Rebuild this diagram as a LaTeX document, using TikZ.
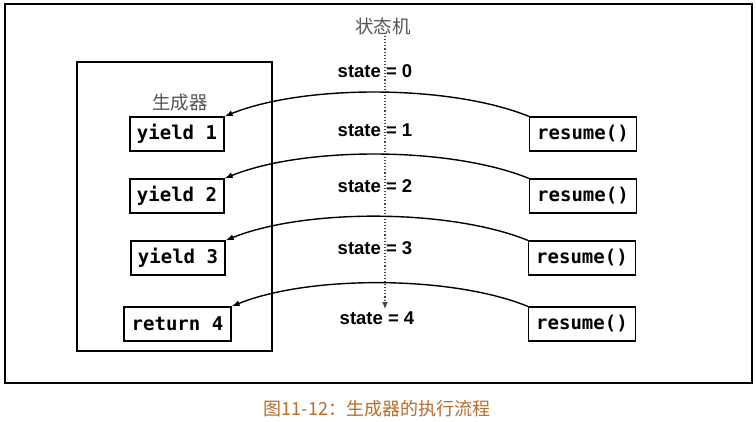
\documentclass[tikz,border=0pt]{standalone}
\usepackage{fontspec}
\usetikzlibrary{arrows.meta}
\newfontfamily\codefont{DejaVu Sans Mono}
\newfontfamily\statefont{Liberation Sans}
\newfontfamily\cjk{Noto Sans CJK SC}
\definecolor{capcol}{RGB}{184,108,40}
\definecolor{lblgray}{RGB}{85,85,85}
\begin{document}
\begin{tikzpicture}[x=1pt, y=1pt,
  codebox/.style={draw, line width=1.3pt, inner sep=0pt, minimum width=94pt, minimum height=34pt, font=\codefont\bfseries\fontsize{19}{19}\selectfont},
  statelbl/.style={inner sep=0pt, font=\statefont\bfseries\fontsize{18.5}{18.5}\selectfont},
  cjklbl/.style={inner sep=0pt, text=lblgray, font=\cjk\fontsize{18.5}{18.5}\selectfont},
  resarrow/.style={line width=1.4pt, -{Latex[length=8pt,width=6pt]}}]
\useasboundingbox (0,0) rectangle (756,-421);
\node[draw, line width=2.2pt, minimum width=747pt, minimum height=379pt, inner sep=0pt] (frame) at (378.5,-193.5){};
\node[draw, line width=1.5pt, minimum width=195pt, minimum height=289pt, inner sep=0pt] (gen) at (174.5,-206.5){};
\node[cjklbl] (genlbl) at (180,-103){生成器};
\node[codebox] (y1) at (177,-134){yield 1};
\node[codebox] (y2) at (177,-196){yield 2};
\node[codebox] (y3) at (178,-258){yield 3};
\node[codebox, minimum width=107pt] (r4) at (177.5,-324){return 4};
\node[codebox, minimum width=107pt] (res1) at (583,-134){resume()};
\node[codebox, minimum width=107pt] (res2) at (583,-196){resume()};
\node[codebox, minimum width=107pt] (res3) at (582,-258){resume()};
\node[codebox, minimum width=107pt] (res4) at (582,-324){resume()};
\node[cjklbl] (sm) at (383,-26){状态机};
\coordinate (smtop) at (385,-36);
\coordinate (smbot) at (385,-309);
\draw[dotted, line width=1.1pt, lblgray!80!black, -{Latex[length=7pt,width=6pt]}](smtop) -- (smbot);
\node[statelbl] (s0) at (375,-71){state = 0};
\node[statelbl] (s1) at (375,-130){state = 1};
\node[statelbl] (s2) at (375,-186){state = 2};
\node[statelbl] (s3) at (375,-248){state = 3};
\node[statelbl] (s4) at (377,-318){state = 4};
\draw[resarrow](res1.north west) to[out=158, in=22, looseness=0.72] (y1.north east);
\draw[resarrow](res2.north west) to[out=158, in=22, looseness=0.72] (y2.north east);
\draw[resarrow](res3.north west) to[out=158, in=22, looseness=0.72] (y3.north east);
\draw[resarrow](res4.north west) to[out=158, in=22, looseness=0.72] (r4.north east);
\node[inner sep=0pt, text=capcol, font=\cjk\fontsize{18}{18}\selectfont] (cap) at (377,-409){图11-12：生成器的执行流程};
\end{tikzpicture}
\end{document}
